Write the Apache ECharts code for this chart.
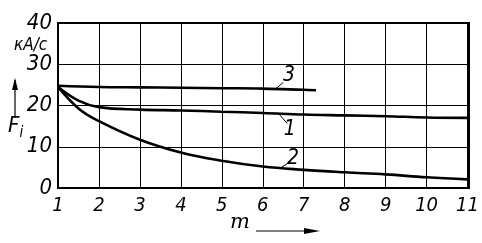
<!DOCTYPE html>
<html><head><meta charset="utf-8">
<script src="https://cdn.jsdelivr.net/npm/echarts@6/dist/echarts.min.js"></script>
<style>html,body{margin:0;padding:0;background:#fff}#c{width:482px;height:243px}</style>
</head><body><div id="c"></div>
<script>
const xTicks = [1,2,3,4,5,6,7,8,9,10,11];
const yTicks = [0,10,20,30,40];
const curve1 = [[1,24.5],[1.5,21.2],[2,19.6],[3,19.0],[4,18.8],[5,18.5],[6,18.2],[7,17.8],[8,17.6],[9,17.4],[10,17.1],[11,17.0]];
const curve2 = [[1,24.5],[1.5,19.3],[2,16.2],[3,11.7],[4,8.6],[5,6.6],[6,5.2],[7,4.4],[8,3.8],[9,3.3],[10,2.6],[11,2.1]];
const curve3 = [[1,24.8],[2,24.5],[3,24.4],[4,24.3],[5,24.2],[6,24.1],[7,23.8],[7.3,23.7]];
const curveNames = ['1','2','3'];
const labelPos = [[6.66,14.2],[6.74,7.2],[6.64,27.3]];
const leaders = [[[6.4,17.9],[6.6,15.6]],[[6.45,5.0],[6.68,6.4]],[[6.3,23.9],[6.5,25.6]]];

const font = '"DejaVu Sans Condensed", "DejaVu Sans"';
const chart = echarts.init(document.getElementById('c'));
function mk(data, i){
  return {
    type:'line', data:data, smooth:0.4, symbol:'none',
    lineStyle:{color:'#000', width:2.6},
    markLine:{silent:true, symbol:'none', label:{show:false},
      lineStyle:{color:'#000', width:1, type:'solid'},
      data:[[{coord:leaders[i][0]},{coord:leaders[i][1]}]]},
    markPoint:{silent:true, symbol:'circle', symbolSize:1, itemStyle:{color:'rgba(0,0,0,0)'},
      label:{show:true, color:'#000', fontFamily:font, fontStyle:'italic', fontSize:21, formatter:curveNames[i]},
      data:[{coord:labelPos[i]}]}
  };
}
chart.setOption({
  animation:false,
  grid:{left:58, right:13, top:23, bottom:55},
  xAxis:{type:'value', min:xTicks[0], max:xTicks[xTicks.length-1], interval:1,
    axisLine:{show:true, lineStyle:{color:'#000', width:2}},
    axisTick:{show:false},
    splitLine:{show:true, lineStyle:{color:'#000', width:1}},
    axisLabel:{color:'#000', fontFamily:font, fontStyle:'italic', fontSize:20, margin:8}},
  yAxis:{type:'value', min:yTicks[0], max:yTicks[yTicks.length-1], interval:10,
    axisLine:{show:true, lineStyle:{color:'#000', width:2}},
    axisTick:{show:false},
    splitLine:{show:true, lineStyle:{color:'#000', width:1}},
    axisLabel:{color:'#000', fontFamily:font, fontStyle:'italic', fontSize:22, margin:6}},
  graphic:[
    {type:'rect', shape:{x:58,y:23,width:411,height:165}, style:{fill:'none', stroke:'#000', lineWidth:2}, z:10},
    {type:'text', left:14, top:37, style:{text:'{u|кА/с}', rich:{u:{fontFamily:font, fontStyle:'italic', fontSize:17, fill:'#000'}}}},
    {type:'text', left:8, top:115, style:{text:'{f|F}{i|i}', fill:'#000',
      rich:{f:{fontFamily:font, fontStyle:'italic', fontSize:22, fill:'#000'}, i:{fontFamily:font, fontStyle:'italic', fontSize:15, fill:'#000', verticalAlign:'bottom', padding:[14,0,0,0]}}}},
    {type:'line', shape:{x1:15,y1:118,x2:15,y2:80}, style:{stroke:'#000', lineWidth:1.2}},
    {type:'polygon', shape:{points:[[15,78],[12,90],[18,90]]}, style:{fill:'#000'}},
    {type:'text', left:230, top:212, style:{text:'m', fontFamily:'DejaVu Serif', fontStyle:'italic', fontSize:21, fill:'#000'}},
    {type:'line', shape:{x1:256,y1:231,x2:312,y2:231}, style:{stroke:'#000', lineWidth:1.2}},
    {type:'polygon', shape:{points:[[320,231],[304,228],[304,234]]}, style:{fill:'#000'}}
  ],
  series:[mk(curve1,0), mk(curve2,1), mk(curve3,2)]
});
</script></body></html>
